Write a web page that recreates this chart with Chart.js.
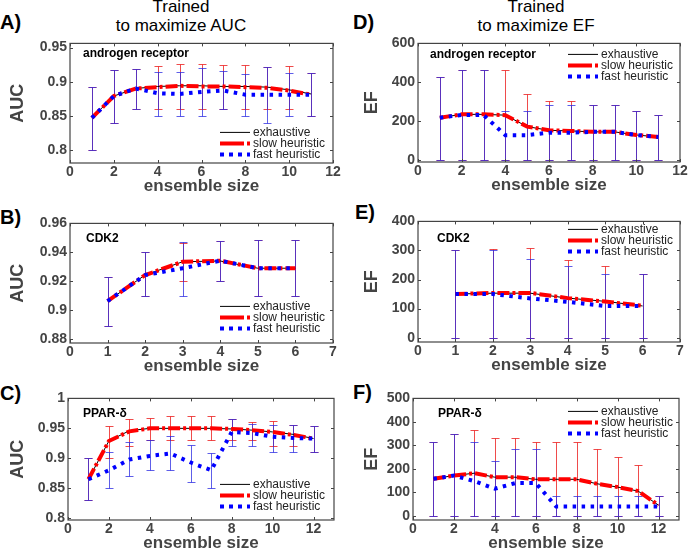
<!DOCTYPE html>
<html>
<head>
<meta charset="utf-8">
<script src="https://cdn.jsdelivr.net/npm/chart.js@4.4.0/dist/chart.umd.min.js"></script>
<style>
    body { margin: 0; background: #fff; width: 689px; height: 552px; position: relative; overflow: hidden;
           font-family: "Liberation Sans", Arial, sans-serif; }
    .panel { position: absolute; }
    .letter { position: absolute; font-weight: bold; font-size: 20px; line-height: 24px; color: #000; }
    .head { position: absolute; width: 200px; font-size: 17px; line-height: 19px; text-align: center; color: #000; }
</style>
</head>
<body>
<div class="head" style="left:81px; top:-3px;">Trained<br>to maximize AUC</div>
<div class="head" style="left:436px; top:-3px;">Trained<br>to maximize EF</div>
<div class="letter" style="left:0px; top:10px;">A)</div>
<div class="letter" style="left:353px; top:10px;">D)</div>
<div class="letter" style="left:0px; top:205px;">B)</div>
<div class="letter" style="left:355px; top:200px;">E)</div>
<div class="letter" style="left:0px; top:381px;">C)</div>
<div class="letter" style="left:353px; top:380px;">F)</div>

<script>
// ensemble sizes
const sizesAR = [1, 2, 3, 4, 5, 6, 7, 8, 9, 10, 11];
const sizesCDK2 = [1, 2, 3, 4, 5, 6];
const sizesPPAR = [1, 2, 3, 4, 5, 6, 7, 8, 9, 10, 11, 12];

// A) androgen receptor, AUC
const aucArExh  = [0.847, 0.879, 0.890, 0.893, 0.894, 0.894, 0.893, 0.893, 0.892, 0.888, 0.882];
const aucArSlow = [0.847, 0.879, 0.890, 0.892, 0.894, 0.893, 0.893, 0.892, 0.891, 0.887, 0.881];
const aucArFast = [0.847, 0.879, 0.890, 0.883, 0.882, 0.885, 0.887, 0.881, 0.881, 0.881, 0.881];
const aucArSlowLo = [0.80, 0.84, 0.86, 0.86, 0.86, 0.86, 0.86, 0.86, 0.86, 0.86, 0.85];
const aucArSlowHi = [0.892, 0.917, 0.919, 0.923, 0.926, 0.926, 0.925, 0.924, 0.921, 0.923, 0.912];
const aucArFastLo = [0.80, 0.84, 0.86, 0.85, 0.85, 0.85, 0.86, 0.85, 0.84, 0.85, 0.85];
const aucArFastHi = [0.892, 0.917, 0.919, 0.914, 0.914, 0.920, 0.916, 0.911, 0.921, 0.912, 0.912];

// D) androgen receptor, EF
const efArExh  = [218, 235, 235, 231, 172, 153, 150, 145, 145, 129, 119];
const efArSlow = [218, 235, 235, 231, 172, 153, 150, 145, 145, 129, 119];
const efArFast = [218, 232, 232, 128, 128, 141, 141, 145, 145, 129, 119];
const efArSlowLo = [0, 0, 0, 0, 0, 0, 0, 0, 0, 0, 0];
const efArSlowHi = [428, 462, 462, 462, 340, 303, 303, 285, 285, 250, 233];
const efArFastLo = [0, 0, 0, 0, 0, 0, 0, 0, 0, 0, 0];
const efArFastHi = [428, 462, 462, 250, 250, 285, 285, 285, 285, 250, 233];

// B) CDK2, AUC
const aucCdkExh  = [0.9063, 0.9243, 0.9335, 0.934, 0.929, 0.929];
const aucCdkSlow = [0.9063, 0.9243, 0.9335, 0.9342, 0.929, 0.929];
const aucCdkFast = [0.9063, 0.9243, 0.929, 0.9342, 0.929, 0.929];
const aucCdkSlowLo = [0.889, 0.9097, 0.92, 0.92, 0.91, 0.91];
const aucCdkSlowHi = [0.923, 0.94, 0.9465, 0.948, 0.9485, 0.9485];
const aucCdkFastLo = [0.889, 0.9097, 0.91, 0.92, 0.91, 0.91];
const aucCdkFastHi = [0.923, 0.94, 0.9474, 0.948, 0.9485, 0.9485];

// E) CDK2, EF
const efCdkExh  = [150, 153, 153, 136, 125, 109];
const efCdkSlow = [150, 154, 154, 136, 124, 110];
const efCdkFast = [150, 150, 135, 123, 109, 109];
const efCdkSlowLo = [0, 0, 0, 0, 0, 0];
const efCdkSlowHi = [300, 306, 307, 268, 245, 218];
const efCdkFastLo = [0, 0, 0, 0, 0, 0];
const efCdkFastHi = [300, 300, 269, 248, 218, 218];

// C) PPAR-delta, AUC
const aucPpExh  = [0.865, 0.929, 0.946, 0.950, 0.950, 0.950, 0.950, 0.949, 0.947, 0.944, 0.940, 0.933];
const aucPpSlow = [0.865, 0.929, 0.945, 0.950, 0.950, 0.950, 0.950, 0.949, 0.947, 0.944, 0.939, 0.933];
const aucPpFast = [0.865, 0.880, 0.898, 0.904, 0.908, 0.893, 0.880, 0.944, 0.942, 0.936, 0.934, 0.933];
const aucPpSlowLo = [0.83, 0.90, 0.92, 0.93, 0.93, 0.93, 0.93, 0.93, 0.93, 0.92, 0.92, 0.91];
const aucPpSlowHi = [0.90, 0.954, 0.966, 0.968, 0.970, 0.971, 0.970, 0.965, 0.960, 0.962, 0.956, 0.954];
const aucPpFastLo = [0.83, 0.85, 0.87, 0.88, 0.88, 0.86, 0.85, 0.92, 0.92, 0.91, 0.91, 0.91];
const aucPpFastHi = [0.90, 0.911, 0.927, 0.930, 0.938, 0.922, 0.909, 0.965, 0.957, 0.955, 0.955, 0.954];

// F) PPAR-delta, EF
const efPpExh  = [158, 172, 182, 165, 165, 156, 156, 156, 137, 123, 106, 46];
const efPpSlow = [158, 172, 182, 165, 165, 156, 156, 156, 137, 123, 106, 46];
const efPpFast = [158, 172, 148, 116, 140, 140, 40, 40, 40, 40, 40, 40];
const efPpSlowLo = [0, 0, 0, 0, 0, 0, 0, 0, 0, 0, 0, 0];
const efPpSlowHi = [315, 350, 365, 333, 333, 316, 316, 316, 283, 250, 215, 83];
const efPpFastLo = [0, 0, 0, 0, 0, 0, 0, 0, 0, 0, 0, 0];
const efPpFastHi = [315, 350, 315, 233, 283, 283, 83, 83, 83, 83, 83, 83];

// tick labels
const xTicks12 = [0, 2, 4, 6, 8, 10, 12];
const xTicks7 = [0, 1, 2, 3, 4, 5, 6, 7];
const yTicksAucAR = [0.8, 0.85, 0.9, 0.95];
const yTicksEfAR = [0, 200, 400, 600];
const yTicksAucCdk = [0.88, 0.9, 0.92, 0.94, 0.96];
const yTicksEfCdk = [0, 100, 200, 300, 400];
const yTicksAucPp = [0.8, 0.85, 0.9, 0.95, 1];
const yTicksEfPp = [0, 100, 200, 300, 400, 500];

const seriesNames = ['exhaustive', 'slow heuristic', 'fast heuristic'];

const PAD_TOP = 10;
const PAD_RIGHT = 12;
const X_AXIS_H = 34;
const CAP = 4;
const GREY = '#444444';
const FONT = '"Liberation Sans", Arial, sans-serif';

// box = chart area [left, top, right, bottom] in page pixels
const panels = [
    { sizes: sizesAR, exh: aucArExh, slow: aucArSlow, fast: aucArFast,
      slowLo: aucArSlowLo, slowHi: aucArSlowHi, fastLo: aucArFastLo, fastHi: aucArFastHi,
      yMin: 0.781, yMax: 0.956, yTicks: yTicksAucAR, xMax: 12, xTicks: xTicks12,
      yTitle: 'AUC', target: 'androgen receptor',
      box: [70, 42, 333, 163], yTitleX: 18, label: [13, 10], legend: [150, 89] },
    { sizes: sizesAR, exh: efArExh, slow: efArSlow, fast: efArFast,
      slowLo: efArSlowLo, slowHi: efArSlowHi, fastLo: efArFastLo, fastHi: efArFastHi,
      yMin: -10, yMax: 600, yTicks: yTicksEfAR, xMax: 12, xTicks: xTicks12,
      yTitle: 'EF', target: 'androgen receptor',
      box: [418, 42, 680, 162], yTitleX: 372, label: [12, 11], legend: [150, 11] },
    { sizes: sizesCDK2, exh: aucCdkExh, slow: aucCdkSlow, fast: aucCdkFast,
      slowLo: aucCdkSlowLo, slowHi: aucCdkSlowHi, fastLo: aucCdkFastLo, fastHi: aucCdkFastHi,
      yMin: 0.8773, yMax: 0.96, yTicks: yTicksAucCdk, xMax: 7, xTicks: xTicks7,
      yTitle: 'AUC', target: 'CDK2',
      box: [70, 222, 333, 343], yTitleX: 18, label: [16, 15], legend: [150, 83] },
    { sizes: sizesCDK2, exh: efCdkExh, slow: efCdkSlow, fast: efCdkFast,
      slowLo: efCdkSlowLo, slowHi: efCdkSlowHi, fastLo: efCdkFastLo, fastHi: efCdkFastHi,
      yMin: -15, yMax: 400, yTicks: yTicksEfCdk, xMax: 7, xTicks: xTicks7,
      yTitle: 'EF', target: 'CDK2',
      box: [418, 220, 680, 342], yTitleX: 372, label: [19, 17], legend: [150, 8] },
    { sizes: sizesPPAR, exh: aucPpExh, slow: aucPpSlow, fast: aucPpFast,
      slowLo: aucPpSlowLo, slowHi: aucPpSlowHi, fastLo: aucPpFastLo, fastHi: aucPpFastHi,
      yMin: 0.797, yMax: 1, yTicks: yTicksAucPp, xMax: 13, xTicks: xTicks12,
      yTitle: 'AUC', target: 'PPAR-δ',
      box: [68, 397, 334, 520], yTitleX: 18, label: [15, 15], legend: [152, 86] },
    { sizes: sizesPPAR, exh: efPpExh, slow: efPpSlow, fast: efPpFast,
      slowLo: efPpSlowLo, slowHi: efPpSlowHi, fastLo: efPpFastLo, fastHi: efPpFastHi,
      yMin: -17, yMax: 500, yTicks: yTicksEfPp, xMax: 13, xTicks: xTicks12,
      yTitle: 'EF', target: 'PPAR-δ',
      box: [413, 397, 679, 520], yTitleX: 372, label: [25, 15], legend: [155, 13] }
];

const styles = {
    exh:  { color: '#000000', width: 1, dash: [], legendDash: [] },
    slow: { color: '#ff0000', width: 4, dash: [12, 3, 3, 3], legendDash: [24, 3, 3, 3] },
    fast: { color: '#0000ff', width: 4, dash: [3.5, 5.5], legendDash: [4, 5] }
};

function points(sizes, values) {
    return sizes.map((s, i) => ({ x: s, y: values[i] }));
}

function lineDataset(sizes, values, st) {
    return {
        data: points(sizes, values),
        borderColor: st.color,
        borderWidth: st.width,
        borderDash: st.dash,
        borderCapStyle: 'butt',
        pointRadius: 0,
        tension: 0,
        fill: false
    };
}

function makePanel(p) {
    const [left, top, right, bottom] = p.box;
    const canvasLeft = p.yTitleX - 11;
    const canvasTop = top - PAD_TOP;
    const w = right + PAD_RIGHT - canvasLeft;
    const h = bottom + X_AXIS_H - canvasTop;
    const yAxisW = left - canvasLeft;

    const wrap = document.createElement('div');
    wrap.className = 'panel';
    wrap.style.left = canvasLeft + 'px';
    wrap.style.top = canvasTop + 'px';
    const canvas = document.createElement('canvas');
    canvas.width = w;
    canvas.height = h;
    wrap.appendChild(canvas);
    document.body.appendChild(wrap);

    // error bars under the lines: slow (red) first, fast (blue) on top
    const errorBars = {
        id: 'errorBars',
        beforeDatasetsDraw(chart) {
            const { ctx, scales: { x, y } } = chart;
            const bars = [
                { lo: p.slowLo, hi: p.slowHi, color: 'rgba(235,30,30,0.8)' },
                { lo: p.fastLo, hi: p.fastHi, color: 'rgba(40,40,225,0.75)' }
            ];
            ctx.save();
            ctx.lineWidth = 1;
            bars.forEach(bar => {
                ctx.strokeStyle = bar.color;
                p.sizes.forEach((s, i) => {
                    const px = Math.round(x.getPixelForValue(s)) + 0.5;
                    const yt = Math.round(y.getPixelForValue(bar.hi[i])) + 0.5;
                    const yb = Math.round(y.getPixelForValue(bar.lo[i])) + 0.5;
                    ctx.beginPath();
                    ctx.moveTo(px, yt); ctx.lineTo(px, yb);
                    ctx.moveTo(px - CAP, yt); ctx.lineTo(px + CAP, yt);
                    ctx.moveTo(px - CAP, yb); ctx.lineTo(px + CAP, yb);
                    ctx.stroke();
                });
            });
            ctx.restore();
        }
    };

    // matlab-like box, inward ticks, target name and legend
    const decorations = {
        id: 'decorations',
        afterDraw(chart) {
            const { ctx, chartArea: a, scales: { x, y } } = chart;
            ctx.save();
            ctx.strokeStyle = '#444';
            ctx.lineWidth = 1.2;
            ctx.strokeRect(a.left, a.top, a.right - a.left, a.bottom - a.top);
            ctx.lineWidth = 1;
            ctx.beginPath();
            p.xTicks.forEach(v => {
                const px = Math.round(x.getPixelForValue(v)) + 0.5;
                ctx.moveTo(px, a.bottom); ctx.lineTo(px, a.bottom - 3);
                ctx.moveTo(px, a.top); ctx.lineTo(px, a.top + 3);
            });
            p.yTicks.forEach(v => {
                const py = Math.round(y.getPixelForValue(v)) + 0.5;
                ctx.moveTo(a.left, py); ctx.lineTo(a.left + 3, py);
                ctx.moveTo(a.right, py); ctx.lineTo(a.right - 3, py);
            });
            ctx.stroke();

            ctx.fillStyle = '#000';
            ctx.font = 'bold 12px ' + FONT;
            ctx.textBaseline = 'middle';
            ctx.textAlign = 'left';
            ctx.fillText(p.target, a.left + p.label[0], a.top + p.label[1]);

            const lx = a.left + p.legend[0];
            ctx.font = '12px ' + FONT;
            [styles.exh, styles.slow, styles.fast].forEach((st, i) => {
                const ly = a.top + p.legend[1] + i * 11;
                ctx.strokeStyle = st.color;
                ctx.lineWidth = st.width;
                ctx.lineCap = 'butt';
                ctx.setLineDash(st.legendDash);
                ctx.beginPath();
                ctx.moveTo(lx, ly); ctx.lineTo(lx + 30, ly);
                ctx.stroke();
                ctx.setLineDash([]);
                ctx.fillStyle = '#222';
                ctx.fillText(seriesNames[i], lx + 33, ly);
            });
            ctx.restore();
        }
    };

    new Chart(canvas, {
        type: 'line',
        data: {
            datasets: [
                lineDataset(p.sizes, p.fast, styles.fast),
                lineDataset(p.sizes, p.slow, styles.slow),
                lineDataset(p.sizes, p.exh, styles.exh)
            ]
        },
        options: {
            responsive: false,
            animation: false,
            events: [],
            layout: { padding: { left: 0, top: PAD_TOP, right: PAD_RIGHT, bottom: 0 } },
            plugins: { legend: { display: false }, tooltip: { enabled: false } },
            scales: {
                x: {
                    type: 'linear',
                    min: 0,
                    max: p.xMax,
                    grid: { display: false, drawTicks: false },
                    border: { display: false },
                    afterBuildTicks: s => { s.ticks = p.xTicks.map(v => ({ value: v })); },
                    afterFit: s => { s.height = X_AXIS_H; },
                    ticks: {
                        padding: 1, maxRotation: 0, autoSkip: false, color: GREY,
                        font: { family: FONT, size: 14, weight: 'bold' },
                        callback: v => String(v)
                    },
                    title: {
                        display: true, text: 'ensemble size', color: GREY, padding: 0,
                        font: { family: FONT, size: 17, weight: 'bold' }
                    }
                },
                y: {
                    type: 'linear',
                    min: p.yMin,
                    max: p.yMax,
                    grid: { display: false, drawTicks: false },
                    border: { display: false },
                    afterBuildTicks: s => { s.ticks = p.yTicks.map(v => ({ value: v })); },
                    afterFit: s => { s.width = yAxisW; },
                    ticks: {
                        padding: 3, autoSkip: false, color: GREY,
                        font: { family: FONT, size: 14, weight: 'bold' },
                        callback: v => String(v)
                    },
                    title: {
                        display: true, text: p.yTitle, color: GREY, padding: 0,
                        font: { family: FONT, size: 18, weight: 'bold' }
                    }
                }
            }
        },
        plugins: [errorBars, decorations]
    });
}

panels.forEach(makePanel);
</script>
</body>
</html>
